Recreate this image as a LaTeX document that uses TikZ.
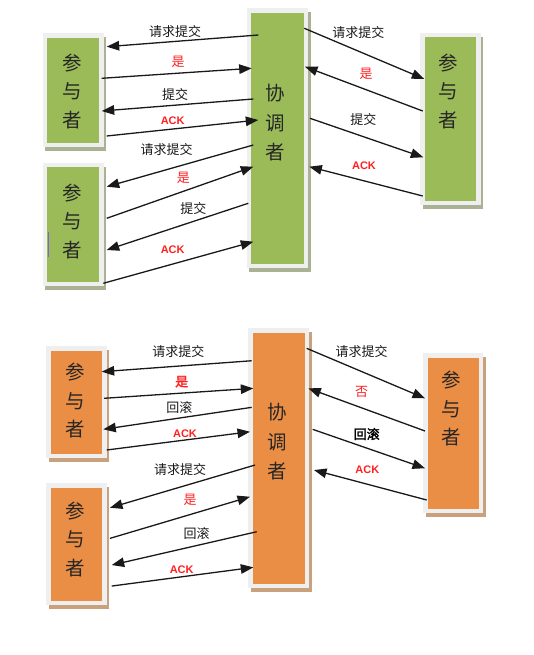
\documentclass[tikz,border=0pt]{standalone}
\usepackage{fontspec}
\setmainfont{Liberation Sans}
\newfontfamily\cjk{Noto Sans CJK SC}
\newfontfamily\cjkb[FakeBold=2]{Noto Sans CJK SC}
\usetikzlibrary{arrows.meta,backgrounds}
\definecolor{gfill}{HTML}{9BBB59}
\definecolor{ofill}{HTML}{EB8E45}
\definecolor{framegray}{HTML}{EFEFEF}
\definecolor{gshad}{HTML}{A9B393}
\definecolor{oshad}{HTML}{C9A17C}
\definecolor{lred}{HTML}{FF2020}
\definecolor{lpurple}{HTML}{7B68C8}
\begin{document}
\begin{tikzpicture}[x=1pt,y=-1pt,
  box/.style={draw=framegray, line width=4.5pt, inner sep=0pt, outer sep=2.25pt},
  gbox/.style={box, fill=gfill},
  obox/.style={box, fill=ofill},
  bigp/.style={font=\cjk\fontsize{19.5}{28.5}\selectfont, align=center, anchor=north, inner sep=0pt, text=black!85},
  bigc/.style={font=\cjk\fontsize{19.5}{29.5}\selectfont, align=center, anchor=north, inner sep=0pt, text=black!85},
  lbl/.style={font=\cjk\fontsize{13}{15}\selectfont, inner sep=0pt, text=black!90},
  lblb/.style={font=\cjkb\fontsize{13}{15}\selectfont, inner sep=0pt, text=black},
  yes/.style={font=\cjk\fontsize{13}{15}\selectfont, inner sep=0pt, text=lred},
  yesb/.style={font=\cjkb\fontsize{13}{15}\selectfont, inner sep=0pt, text=lred},
  ack/.style={font=\bfseries\fontsize{11}{13}\selectfont, inner sep=0pt, text=lred},
  arr/.style={-{Triangle[length=12.5pt,width=9.5pt]}, line width=1.3pt, draw=black!90}
]
\useasboundingbox (0,0) rectangle (534,655);

% ---------- boxes ----------
\node[gbox, minimum width=56.5pt, minimum height=109.5pt] (gp1) at (73.3,90.2) {};
\node[gbox, minimum width=56.5pt, minimum height=118.5pt] (gp2) at (73.3,224.5) {};
\node[gbox, minimum width=56.8pt, minimum height=255.5pt] (gc1) at (277.35,138.3) {};
\node[gbox, minimum width=56pt, minimum height=167.5pt] (gp3) at (450.25,119) {};
\node[obox, minimum width=56.2pt, minimum height=107.5pt] (op1) at (76.35,402) {};
\node[obox, minimum width=56.2pt, minimum height=117.2pt] (op2) at (76.35,544.2) {};
\node[obox, minimum width=56.5pt, minimum height=255.2pt] (oc) at (278.8,458.2) {};
\node[obox, minimum width=55.5pt, minimum height=155.5pt] (op3) at (453.3,433.3) {};

\begin{scope}[on background layer]
\foreach \n/\c in {gp1/gshad,gp2/gshad,gc1/gshad,gp3/gshad,op1/oshad,op2/oshad,oc/oshad,op3/oshad}
  \fill[\c] ([shift={(2.5,4)}]\n.north west) rectangle ([shift={(2.5,4)}]\n.south east);
\end{scope}

\draw[lpurple, line width=1pt] (48.3,231.7) -- (48.3,256.7);

% ---------- box texts ----------
\node[bigp] (t1) at ([shift={(-1,20.4)}]gp1.north) {参\\与\\者};
\node[bigp] (t2) at ([shift={(-1,20.4)}]gp2.north) {参\\与\\者};
\node[bigc] (t3) at ([shift={(-2,76)}]gc1.north) {协\\调\\者};
\node[bigp] (t4) at ([shift={(-2,20.4)}]gp3.north) {参\\与\\者};
\node[bigp] (t5) at ([shift={(-1.3,17)}]op1.north) {参\\与\\者};
\node[bigp] (t6) at ([shift={(-1.3,18)}]op2.north) {参\\与\\者};
\node[bigc] (t7) at ([shift={(-2,74.8)}]oc.north) {协\\调\\者};
\node[bigp] (t8) at ([shift={(-1.6,18)}]op3.north) {参\\与\\者};

% ---------- top connectors ----------
\draw[arr] ([shift={(11.6,26.7)}]gc1.north west) -- ([shift={(2.9,13.5)}]gp1.north east);
\draw[arr] ([shift={(-2.1,45.1)}]gp1.north east) -- ([shift={(5,60)}]gc1.north west);
\draw[arr] ([shift={(6.6,90.7)}]gc1.north west) -- ([shift={(-2.1,77.8)}]gp1.north east);
\draw[arr] ([shift={(2.9,102.8)}]gp1.north east) -- ([shift={(11.6,111.7)}]gc1.north west);

\draw[arr] ([shift={(6.6,136.7)}]gc1.north west) -- ([shift={(2.9,23.7)}]gp2.north east);
\draw[arr] ([shift={(2.9,55.3)}]gp2.north east) -- ([shift={(6.6,158.4)}]gc1.north west);
\draw[arr] ([shift={(1.6,195)}]gc1.north west) -- ([shift={(2.9,87)}]gp2.north east);
\draw[arr] ([shift={(-0.5,120.3)}]gp2.north east) -- ([shift={(6.6,233.4)}]gc1.north west);

\draw[arr] ([shift={(-3.7,20)}]gc1.north east) -- ([shift={(4.3,46)}]gp3.north west);
\draw[arr] ([shift={(2.7,78)}]gp3.north west) -- ([shift={(-3,58.4)}]gc1.north east);
\draw[arr] ([shift={(2,110)}]gc1.north east) -- ([shift={(3.3,124.3)}]gp3.north west);
\draw[arr] ([shift={(2.7,163)}]gp3.north west) -- ([shift={(1.3,158.4)}]gc1.north east);

% ---------- bottom connectors ----------
\draw[arr] ([shift={(3.4,32.4)}]oc.north west) -- ([shift={(-5,25.7)}]op1.north east);
\draw[arr] ([shift={(-2.7,52.3)}]op1.north east) -- ([shift={(5,60)}]oc.north west);
\draw[arr] ([shift={(3.4,79)}]oc.north west) -- ([shift={(-3.4,83.3)}]op1.north east);
\draw[arr] ([shift={(0,104)}]op1.north east) -- ([shift={(1.7,103.4)}]oc.north west);

\draw[arr] ([shift={(6.7,136.7)}]oc.north west) -- ([shift={(3.3,24.4)}]op2.north east);
\draw[arr] ([shift={(3.3,55)}]op2.north east) -- ([shift={(1.7,168.4)}]oc.north west);
\draw[arr] ([shift={(8.4,203.4)}]oc.north west) -- ([shift={(5,81.7)}]op2.north east);
\draw[arr] ([shift={(5,102.7)}]op2.north east) -- ([shift={(5,239)}]oc.north west);

\draw[arr] ([shift={(-2.6,20)}]oc.north east) -- ([shift={(1.7,45)}]op3.north west);
\draw[arr] ([shift={(1.7,77.7)}]op3.north west) -- ([shift={(-1,60)}]oc.north east);
\draw[arr] ([shift={(3.4,101)}]oc.north east) -- ([shift={(1.7,115)}]op3.north west);
\draw[arr] ([shift={(3.4,146.7)}]op3.north west) -- ([shift={(4.7,141.7)}]oc.north east);

% ---------- labels ----------
\node[lbl] (a1) at (175,31.7) {请求提交};
\node[yes] (a2) at (178,61.7) {是};
\node[lbl] (a3) at (175,94.3) {提交};
\node[ack] (a4) at (172.7,120.7) {ACK};
\node[lbl] (a5) at (166.7,150) {请求提交};
\node[yes] (a6) at (183.3,178.3) {是};
\node[lbl] (a7) at (193.3,208.3) {提交};
\node[ack] (a8) at (172.7,250) {ACK};
\node[lbl] (a9) at (358.3,32.3) {请求提交};
\node[yes] (a10) at (366,74) {是};
\node[lbl] (a11) at (363.3,120) {提交};
\node[ack] (a12) at (364,166) {ACK};

\node[lbl] (b1) at (178.3,351.7) {请求提交};
\node[yesb] (b2) at (181.7,381.7) {是};
\node[lbl] (b3) at (179.3,407.3) {回滚};
\node[ack] (b4) at (185,433.3) {ACK};
\node[lbl] (b5) at (180,470) {请求提交};
\node[yes] (b6) at (190,500) {是};
\node[lbl] (b7) at (196.7,533.3) {回滚};
\node[ack] (b8) at (181.7,569.3) {ACK};
\node[lbl] (b9) at (361.7,351.7) {请求提交};
\node[yes] (b10) at (361.7,391.7) {否};
\node[lblb] (b11) at (366.7,434) {回滚};
\node[ack] (b12) at (367.3,470) {ACK};
\end{tikzpicture}
\end{document}
